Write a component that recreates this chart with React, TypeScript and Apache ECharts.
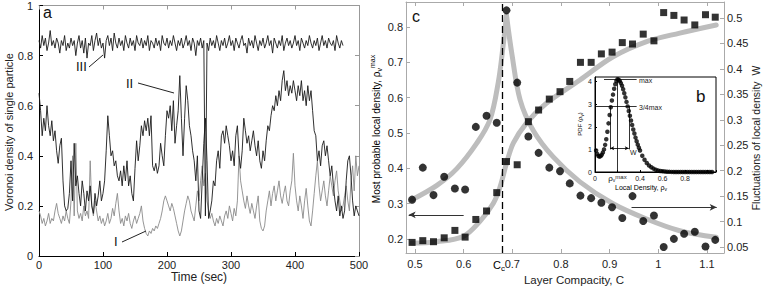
import React, { useEffect, useRef } from 'react';
import * as echarts from 'echarts';

// ---------- Panel a : single-particle Voronoi density vs time ----------
const TIME_STEP = 2.5; // seconds between samples
const timeTicks = [0, 100, 200, 300, 400, 500];
const seriesI = [
  0.18, 0.16, 0.13, 0.15, 0.12, 0.14, 0.17, 0.13, 0.15, 0.14,
  0.18, 0.21, 0.17, 0.15, 0.13, 0.16, 0.14, 0.18, 0.15, 0.13,
  0.22, 0.40, 0.16, 0.45, 0.18, 0.15, 0.17, 0.14, 0.20, 0.16,
  0.18, 0.15, 0.38, 0.20, 0.16, 0.22, 0.18, 0.14, 0.16, 0.13,
  0.15, 0.12, 0.14, 0.17, 0.13, 0.15, 0.19, 0.16, 0.21, 0.25,
  0.18, 0.13, 0.15, 0.12, 0.16, 0.14, 0.17, 0.13, 0.11, 0.14,
  0.16, 0.13, 0.15, 0.17, 0.20, 0.14, 0.11, 0.09, 0.08, 0.10,
  0.09, 0.11, 0.10, 0.12, 0.11, 0.13, 0.15, 0.18, 0.22, 0.24,
  0.22, 0.20, 0.18, 0.21, 0.19, 0.16, 0.13, 0.10, 0.08, 0.10,
  0.14, 0.18, 0.21, 0.24, 0.22, 0.18, 0.16, 0.14, 0.20, 0.26,
  0.22, 0.30, 0.36, 0.28, 0.33, 0.22, 0.18, 0.15, 0.17, 0.14,
  0.12, 0.15, 0.13, 0.16, 0.14, 0.12, 0.16, 0.18, 0.15, 0.20,
  0.17, 0.14, 0.19, 0.16, 0.22, 0.40, 0.30, 0.26, 0.22, 0.19,
  0.24, 0.20, 0.17, 0.21, 0.18, 0.15, 0.20, 0.24, 0.14, 0.11,
  0.10, 0.12, 0.18, 0.22, 0.26, 0.20, 0.25, 0.28, 0.22, 0.26,
  0.30, 0.24, 0.21, 0.25, 0.28, 0.22, 0.20, 0.26, 0.30, 0.41,
  0.28, 0.22, 0.18, 0.24, 0.20, 0.15, 0.22, 0.27, 0.20, 0.14,
  0.12, 0.18, 0.25, 0.32, 0.38, 0.28, 0.22, 0.26, 0.30, 0.24,
  0.20, 0.26, 0.32, 0.28, 0.24, 0.30, 0.34, 0.26, 0.22, 0.18,
  0.20, 0.24, 0.28, 0.22, 0.18, 0.30, 0.36, 0.26, 0.40, 0.32,
  0.36,
];
const seriesII = [
  0.65, 0.58, 0.48, 0.55, 0.50, 0.60, 0.52, 0.48, 0.54, 0.46,
  0.50, 0.42, 0.37, 0.44, 0.47, 0.30, 0.20, 0.18, 0.19, 0.25,
  0.38, 0.22, 0.45, 0.28, 0.32, 0.25, 0.20, 0.30, 0.25, 0.18,
  0.26, 0.22, 0.28, 0.20, 0.17, 0.25, 0.20, 0.24, 0.30, 0.22,
  0.25, 0.30, 0.42, 0.56, 0.48, 0.40, 0.42, 0.36, 0.38, 0.32,
  0.30, 0.34, 0.28, 0.36, 0.30, 0.38, 0.28, 0.32, 0.25, 0.22,
  0.35, 0.46, 0.38, 0.44, 0.52, 0.48, 0.54, 0.50, 0.55, 0.48,
  0.56, 0.36, 0.34, 0.37, 0.33, 0.36, 0.45, 0.40, 0.36, 0.48,
  0.58, 0.55, 0.60, 0.50, 0.62, 0.45, 0.52, 0.58, 0.72, 0.55,
  0.40, 0.55, 0.68, 0.62, 0.52, 0.48, 0.42, 0.38, 0.30, 0.40,
  0.18, 0.15, 0.30, 0.45, 0.55, 0.38, 0.15, 0.18, 0.22, 0.30,
  0.28, 0.38, 0.42, 0.35, 0.48, 0.50, 0.45, 0.52, 0.48, 0.44,
  0.38, 0.42, 0.36, 0.48, 0.52, 0.40, 0.35, 0.42, 0.55, 0.50,
  0.45, 0.48, 0.42, 0.46, 0.50, 0.44, 0.40, 0.46, 0.38, 0.35,
  0.42, 0.38, 0.46, 0.52, 0.50, 0.56, 0.60, 0.58, 0.64, 0.60,
  0.66, 0.62, 0.70, 0.74, 0.66, 0.70, 0.64, 0.68, 0.65, 0.70,
  0.66, 0.62, 0.68, 0.64, 0.70, 0.62, 0.66, 0.60, 0.68, 0.62,
  0.66, 0.58, 0.50, 0.48, 0.38, 0.42, 0.36, 0.44, 0.46, 0.40,
  0.44, 0.38, 0.32, 0.36, 0.28, 0.22, 0.18, 0.24, 0.16, 0.20,
  0.15, 0.18, 0.30, 0.38, 0.40, 0.32, 0.22, 0.16, 0.20, 0.18,
  0.16,
];
const seriesIII = [
  0.86, 0.83, 0.88, 0.84, 0.87, 0.82, 0.85, 0.90, 0.84, 0.86,
  0.83, 0.87, 0.85, 0.81, 0.86, 0.84, 0.88, 0.82, 0.85, 0.83,
  0.87, 0.84, 0.86, 0.80, 0.85, 0.88, 0.83, 0.86, 0.81, 0.87,
  0.79, 0.85, 0.84, 0.88, 0.82, 0.86, 0.89, 0.84, 0.87, 0.83,
  0.85, 0.79, 0.86, 0.88, 0.84, 0.87, 0.82, 0.89, 0.85, 0.83,
  0.87, 0.84, 0.86, 0.82, 0.88, 0.85, 0.83, 0.87, 0.84, 0.86,
  0.82, 0.88, 0.85, 0.84, 0.87, 0.83, 0.86, 0.84, 0.88, 0.82,
  0.86, 0.85, 0.83, 0.87, 0.84, 0.86, 0.82, 0.88, 0.85, 0.84,
  0.87, 0.83, 0.86, 0.84, 0.88, 0.85, 0.82, 0.86, 0.84, 0.87,
  0.83, 0.85, 0.88, 0.84, 0.86, 0.82, 0.87, 0.85, 0.80, 0.86,
  0.84, 0.87, 0.83, 0.86, 0.16, 0.85, 0.82, 0.87, 0.84, 0.86,
  0.83, 0.88, 0.85, 0.82, 0.86, 0.84, 0.87, 0.83, 0.85, 0.88,
  0.84, 0.86, 0.82, 0.87, 0.85, 0.83, 0.86, 0.88, 0.84, 0.85,
  0.81, 0.87, 0.84, 0.86, 0.83, 0.88, 0.85, 0.82, 0.86, 0.84,
  0.87, 0.83, 0.85, 0.88, 0.84, 0.86, 0.81, 0.87, 0.85, 0.83,
  0.86, 0.84, 0.88, 0.82, 0.85, 0.87, 0.84, 0.86, 0.83, 0.85,
  0.88, 0.84, 0.86, 0.82, 0.87, 0.85, 0.83, 0.86, 0.84, 0.88,
  0.85, 0.83, 0.86, 0.84, 0.87, 0.82, 0.85, 0.88, 0.84, 0.86,
  0.83, 0.87, 0.85, 0.84, 0.86, 0.82, 0.88, 0.85, 0.83, 0.86,
  0.84,
];

// ---------- Panel c : layer compacity ----------
const compacity = [
  0.494, 0.516, 0.538, 0.560, 0.582, 0.603, 0.625, 0.647, 0.668, 0.688,
  0.710, 0.733, 0.754, 0.776, 0.798, 0.818, 0.840, 0.862, 0.883, 0.905,
  0.926, 0.947, 0.969, 0.991, 1.011, 1.032, 1.053, 1.075, 1.097, 1.117,
];
// squares: most probable local density (left axis)
const rhoMax = [
  0.190, 0.195, 0.192, 0.203, 0.224, 0.205, 0.255, 0.279, 0.331, 0.419,
  0.410, 0.532, 0.565, 0.596, 0.617, 0.646, 0.700, 0.700, 0.724, 0.729,
  0.756, 0.752, 0.780, 0.761, 0.841, 0.833, 0.820, 0.806, 0.835, 0.828,
];
// circles: fluctuations W (right axis)
const fluctW = [
  0.143, 0.206, 0.152, 0.188, 0.165, 0.163, 0.286, 0.308, 0.294, 0.515,
  0.373, 0.267, 0.235, 0.206, 0.199, 0.175, 0.151, 0.146, 0.137, 0.128,
  0.107, 0.150, 0.101, 0.112, 0.050, 0.066, 0.076, 0.080, 0.051, 0.064,
];
// fitted guide curves
const rhoFitC = [0.494, 0.545, 0.599, 0.633, 0.661, 0.675, 0.688, 0.702, 0.729, 0.770, 0.839, 0.907, 0.976, 1.044, 1.119];
const rhoFitV = [0.188, 0.192, 0.207, 0.249, 0.301, 0.348, 0.414, 0.471, 0.528, 0.584, 0.650, 0.716, 0.759, 0.783, 0.806];
const wFitLeftC = [0.494, 0.545, 0.586, 0.627, 0.654, 0.671, 0.681, 0.688];
const wFitLeftV = [0.143, 0.171, 0.204, 0.254, 0.300, 0.373, 0.445, 0.505];
const wFitRightC = [0.688, 0.699, 0.716, 0.743, 0.784, 0.839, 0.907, 0.976, 1.044, 1.119];
const wFitRightV = [0.505, 0.430, 0.339, 0.279, 0.227, 0.178, 0.135, 0.105, 0.082, 0.069];
const criticalC = 0.679;

// ---------- Inset b : PDF of local density ----------
const pdfX = [
  0.01, 0.02, 0.03, 0.04, 0.05, 0.06, 0.07, 0.08, 0.09, 0.10,
  0.11, 0.12, 0.13, 0.14, 0.15, 0.16, 0.17, 0.18, 0.19, 0.20,
  0.21, 0.22, 0.23, 0.24, 0.25, 0.26, 0.27, 0.28, 0.29, 0.30,
  0.31, 0.32, 0.33, 0.34, 0.35, 0.36, 0.37, 0.38, 0.39, 0.40,
  0.42, 0.44, 0.46, 0.48, 0.50, 0.52, 0.54, 0.56, 0.58, 0.60,
  0.62, 0.64, 0.66, 0.68, 0.70, 0.72, 0.74, 0.76, 0.78, 0.80,
  0.82, 0.84, 0.86, 0.88, 0.90, 0.92, 0.94, 0.96, 0.98, 1.00,
  1.02, 1.04,
];
const pdfY = [
  0.95, 0.80, 0.71, 0.68, 0.70, 0.76, 0.86, 1.00, 1.20, 1.45,
  1.78, 2.15, 2.52, 2.86, 3.16, 3.42, 3.68, 3.88, 4.02, 4.10,
  4.08, 4.02, 3.93, 3.81, 3.66, 3.48, 3.30, 3.10, 2.90, 2.70,
  2.49, 2.28, 2.08, 1.88, 1.70, 1.52, 1.36, 1.21, 1.07, 0.95,
  0.72, 0.54, 0.40, 0.29, 0.21, 0.15, 0.10, 0.07, 0.045, 0.03,
  0.02, 0.012, 0.007, 0.004, 0.002, 0.002, 0.001, 0.001, 0.001, 0,
  0, 0, 0, 0, 0, 0, 0, 0, 0, 0,
  0, 0,
];
const pdfPeakX = 0.2;
const pdfPeakY = 4.1;
const pdfThreeQuarterY = 2.9;
const pdfWLeft = 0.135;
const pdfWRight = 0.3;

const FF = '"Liberation Sans", Arial, Helvetica, sans-serif';

function axisStyle(color: string, showLabel: boolean, fontSize = 11, margin = 4) {
  return {
    axisLine: { show: true, onZero: false, lineStyle: { color, width: 1 } },
    axisTick: { show: true, inside: true, length: 4, lineStyle: { color, width: 1 } },
    splitLine: { show: false },
    axisLabel: { show: showLabel, fontSize, color: '#222', fontFamily: FF, margin },
  };
}

export default function App() {
  const ref = useRef<HTMLDivElement>(null);
  useEffect(() => {
    const chart = echarts.init(ref.current!, null, { renderer: 'svg' });
    const subRich = {
      b: { fontSize: 10, fontFamily: FF, lineHeight: 14, color: '#222' },
      s: { fontSize: 7, fontFamily: FF, lineHeight: 7, verticalAlign: 'bottom', color: '#222' },
      p: { fontSize: 7, fontFamily: FF, lineHeight: 7, verticalAlign: 'top', color: '#222' },
    };
    const option: any = {
      animation: false,
      backgroundColor: '#fff',
      grid: [
        { left: 39, top: 3, width: 320, height: 253 },
        { left: 406, top: 2, width: 318, height: 251 },
        { left: 595, top: 77, width: 121, height: 95, show: true, borderColor: '#000', borderWidth: 1, backgroundColor: '#fff', z: 5 },
      ],
      xAxis: [
        { type: 'value', gridIndex: 0, min: timeTicks[0], max: timeTicks[timeTicks.length - 1], interval: 100, position: 'bottom', ...axisStyle('#000', true, 11, 3) },
        { type: 'value', gridIndex: 0, min: 0, max: 500, interval: 100, position: 'top', ...axisStyle('#999', false) },
        { type: 'value', gridIndex: 1, min: 0.4815, max: 1.135, position: 'bottom', ...axisStyle('#aaa', true, 11, 5),
          axisLabel: { show: true, fontSize: 11, color: '#222', fontFamily: FF, margin: 5, showMinLabel: false, showMaxLabel: false } },
        { type: 'value', gridIndex: 1, min: 0.4815, max: 1.135, position: 'top', ...axisStyle('#aaa', false) },
        { type: 'value', gridIndex: 2, min: 0, max: 1.075, interval: 0.2, position: 'bottom', z: 6,
          axisLine: { show: true, onZero: false, lineStyle: { color: '#000', width: 1 } },
          axisTick: { show: true, inside: true, length: 2, lineStyle: { color: '#000' } },
          splitLine: { show: false },
          axisLabel: {
            show: true, fontSize: 7, color: '#222', fontFamily: FF, margin: 2, lineHeight: 8,
            formatter: (v: number) => {
              if (Math.abs(v - 0.2) < 1e-6) return '{r|ρ}{s|v}{p|max}';
              if (v > 0.95) return '';
              return '{n|' + String(+v.toFixed(1)) + '}';
            },
            rich: {
              n: { fontSize: 7, fontFamily: FF, lineHeight: 8, color: '#222' },
              r: { fontSize: 8, fontFamily: FF, lineHeight: 8, color: '#222' },
              s: { fontSize: 5, fontFamily: FF, lineHeight: 4, verticalAlign: 'bottom', color: '#222' },
              p: { fontSize: 6, fontFamily: FF, lineHeight: 5, verticalAlign: 'top', color: '#222' },
            },
          },
        },
      ],
      yAxis: [
        { type: 'value', gridIndex: 0, min: 0, max: 1, interval: 0.2, position: 'left', ...axisStyle('#000', true, 11, 6) },
        { type: 'value', gridIndex: 0, min: 0, max: 1, interval: 0.2, position: 'right', ...axisStyle('#999', false) },
        { type: 'value', gridIndex: 1, min: 0.16, max: 0.871, position: 'left', ...axisStyle('#aaa', true, 11, 3),
          axisLabel: { show: true, fontSize: 11, color: '#222', fontFamily: FF, margin: 3, showMinLabel: false, showMaxLabel: false } },
        { type: 'value', gridIndex: 1, min: 0.0382, max: 0.5314, splitNumber: 10, position: 'right', ...axisStyle('#aaa', true, 11, 3),
          axisLabel: { show: true, fontSize: 11, color: '#222', fontFamily: FF, margin: 3, showMinLabel: false, showMaxLabel: false } },
        { type: 'value', gridIndex: 2, min: 0, max: 4.2, interval: 1, position: 'left', z: 6,
          axisLine: { show: true, onZero: false, lineStyle: { color: '#000', width: 1 } },
          axisTick: { show: true, inside: true, length: 2, lineStyle: { color: '#000' } },
          splitLine: { show: false },
          axisLabel: { show: true, fontSize: 7, color: '#222', fontFamily: FF, margin: 3 } },
      ],
      series: [
        { name: 'I', type: 'line', xAxisIndex: 0, yAxisIndex: 0, showSymbol: false, symbol: 'none',
          data: seriesI.map((v, i) => [i * TIME_STEP, v]), lineStyle: { color: '#8a8a8a', width: 0.9 } },
        { name: 'II', type: 'line', xAxisIndex: 0, yAxisIndex: 0, showSymbol: false, symbol: 'none',
          data: seriesII.map((v, i) => [i * TIME_STEP, v]), lineStyle: { color: '#1a1a1a', width: 0.9 } },
        { name: 'III', type: 'line', xAxisIndex: 0, yAxisIndex: 0, showSymbol: false, symbol: 'none',
          data: seriesIII.map((v, i) => [i * TIME_STEP, v]), lineStyle: { color: '#1a1a1a', width: 0.9 } },

        { name: 'rhoFit', type: 'line', xAxisIndex: 2, yAxisIndex: 2, symbol: 'none', smooth: 0.35,
          data: rhoFitC.map((c, i) => [c, rhoFitV[i]]), lineStyle: { color: '#bdbdbd', width: 5, cap: 'round' } },
        { name: 'wFitL', type: 'line', xAxisIndex: 2, yAxisIndex: 3, symbol: 'none', smooth: 0.35,
          data: wFitLeftC.map((c, i) => [c, wFitLeftV[i]]), lineStyle: { color: '#bdbdbd', width: 5, cap: 'round' } },
        { name: 'wFitR', type: 'line', xAxisIndex: 2, yAxisIndex: 3, symbol: 'none', smooth: 0.35,
          data: wFitRightC.map((c, i) => [c, wFitRightV[i]]), lineStyle: { color: '#bdbdbd', width: 5, cap: 'round' } },

        { name: 'rhoMax', type: 'scatter', xAxisIndex: 2, yAxisIndex: 2, symbol: 'rect', symbolSize: 7, z: 4,
          itemStyle: { color: '#000' }, data: compacity.map((c, i) => [c, rhoMax[i]]),
          markLine: {
            silent: true, animation: false, label: { show: false }, symbol: ['none', 'none'],
            data: [
              { xAxis: criticalC, lineStyle: { color: '#000', width: 1.3, type: [7, 4] } },
              [
                { coord: [0.6, 0.268], symbol: 'none', lineStyle: { color: '#333', width: 1, type: 'solid' } },
                { coord: [0.487, 0.268], symbol: 'arrow', symbolSize: [5, 7] },
              ],
            ],
          },
        },
        { name: 'fluctW', type: 'scatter', xAxisIndex: 2, yAxisIndex: 3, symbol: 'circle', symbolSize: 8, z: 4,
          itemStyle: { color: '#000' }, data: compacity.map((c, i) => [c, fluctW[i]]),
          markLine: {
            silent: true, animation: false, label: { show: false }, symbol: ['none', 'none'],
            data: [
              [
                { coord: [0.945, 0.128], symbol: 'none', lineStyle: { color: '#333', width: 1, type: 'solid' } },
                { coord: [1.12, 0.128], symbol: 'arrow', symbolSize: [5, 7] },
              ],
            ],
          },
        },

        { name: 'pdf', type: 'scatter', xAxisIndex: 4, yAxisIndex: 4, symbol: 'circle', symbolSize: 4.5, z: 7,
          itemStyle: { color: '#000' }, data: pdfX.map((x, i) => [x, pdfY[i]]),
          markLine: {
            silent: true, animation: false, label: { show: false }, symbol: ['none', 'none'],
            lineStyle: { color: '#000', width: 0.8, type: 'solid' },
            data: [
              [{ coord: [0.08, pdfPeakY] }, { coord: [0.37, pdfPeakY] }],
              [{ coord: [0.0, pdfThreeQuarterY] }, { coord: [0.37, pdfThreeQuarterY] }],
              [{ coord: [pdfPeakX, 0] }, { coord: [pdfPeakX, pdfPeakY] }],
              [{ coord: [pdfWLeft, 1.0] }, { coord: [pdfWLeft, pdfThreeQuarterY] }],
              [{ coord: [pdfWRight, 1.0] }, { coord: [pdfWRight, pdfThreeQuarterY] }],
              [{ coord: [pdfWLeft, 1.05], symbol: 'arrow', symbolSize: [3, 4] }, { coord: [pdfWRight, 1.05], symbol: 'arrow', symbolSize: [3, 4] }],
            ],
          },
        },
      ],
      graphic: [
        // panel a annotations
        { type: 'text', x: 43, y: 4, z: 10, style: { text: 'a', fontSize: 16, fontFamily: FF, fill: '#111' } },
        { type: 'text', x: 76, y: 60, z: 10, style: { text: 'III', fontSize: 13, fontFamily: FF, fill: '#111' } },
        { type: 'line', z: 10, shape: { x1: 89, y1: 67, x2: 103, y2: 55 }, style: { stroke: '#222', lineWidth: 1 } },
        { type: 'text', x: 126, y: 77, z: 10, style: { text: 'II', fontSize: 13, fontFamily: FF, fill: '#111' } },
        { type: 'line', z: 10, shape: { x1: 138, y1: 83, x2: 174, y2: 93 }, style: { stroke: '#222', lineWidth: 1 } },
        { type: 'text', x: 114, y: 235, z: 10, style: { text: 'I', fontSize: 13, fontFamily: FF, fill: '#111' } },
        { type: 'line', z: 10, shape: { x1: 122, y1: 242, x2: 146, y2: 231 }, style: { stroke: '#222', lineWidth: 1 } },
        { type: 'text', x: 199, y: 277, z: 10, style: { text: 'Time (sec)', fontSize: 12, fontFamily: FF, fill: '#222', align: 'center', verticalAlign: 'middle' } },
        { type: 'text', x: 9, y: 132, rotation: Math.PI / 2, z: 10, style: { text: 'Voronoi density of single particle', fontSize: 11, fontFamily: FF, fill: '#222', align: 'center', verticalAlign: 'middle' } },

        // panel c annotations
        { type: 'text', x: 412, y: 8, z: 10, style: { text: 'c', fontSize: 16, fontFamily: FF, fill: '#111' } },
        { type: 'text', x: 493, y: 258, z: 10, style: { text: '{b|C}{s|c}', rich: { b: { fontSize: 11, fontFamily: FF, lineHeight: 14, color: '#222' }, s: { fontSize: 8, fontFamily: FF, lineHeight: 8, verticalAlign: 'bottom', color: '#222' } } } },
        { type: 'text', x: 574, y: 280, z: 10, style: { text: 'Layer Compacity, C', fontSize: 11.5, fontFamily: FF, fill: '#222', align: 'center', verticalAlign: 'middle' } },
        { type: 'text', x: 376, y: 129, rotation: Math.PI / 2, z: 10, style: { text: '{b|Most probable local density, ρ}{s|v}{p|max}', rich: subRich, align: 'center', verticalAlign: 'middle' } },
        { type: 'text', x: 756, y: 138, rotation: Math.PI / 2, z: 10, style: { text: 'Fluctuations of local density  W', fontSize: 10.5, fontFamily: FF, fill: '#222', align: 'center', verticalAlign: 'middle' } },

        // inset b annotations
        { type: 'text', x: 696, y: 88, z: 12, style: { text: 'b', fontSize: 17, fontFamily: FF, fill: '#111' } },
        { type: 'text', x: 639, y: 77, z: 12, style: { text: 'max', fontSize: 7, fontFamily: FF, fill: '#222' } },
        { type: 'text', x: 639, y: 104, z: 12, style: { text: '3/4max', fontSize: 7, fontFamily: FF, fill: '#222' } },
        { type: 'text', x: 630, y: 149, z: 12, style: { text: 'W', fontSize: 7, fontFamily: FF, fill: '#222' } },
        { type: 'text', x: 641, y: 187, z: 12, style: { text: '{b|Local Density, ρ}{s|v}', rich: {
          b: { fontSize: 7, fontFamily: FF, lineHeight: 9, color: '#222' },
          s: { fontSize: 5, fontFamily: FF, lineHeight: 4, verticalAlign: 'bottom', color: '#222' } }, align: 'center', verticalAlign: 'middle' } },
        { type: 'text', x: 580, y: 124, rotation: Math.PI / 2, z: 12, style: { text: '{b|PDF (ρ}{s|v}{b|)}', rich: {
          b: { fontSize: 6, fontFamily: FF, lineHeight: 9, color: '#222' },
          s: { fontSize: 4.5, fontFamily: FF, lineHeight: 5, verticalAlign: 'bottom', color: '#222' } }, align: 'center', verticalAlign: 'middle' } },
      ],
    };
    chart.setOption(option);
    return () => chart.dispose();
  }, []);
  return <div ref={ref} style={{ position: 'fixed', left: 0, top: 0, width: 763, height: 290, background: '#fff' }} />;
}
